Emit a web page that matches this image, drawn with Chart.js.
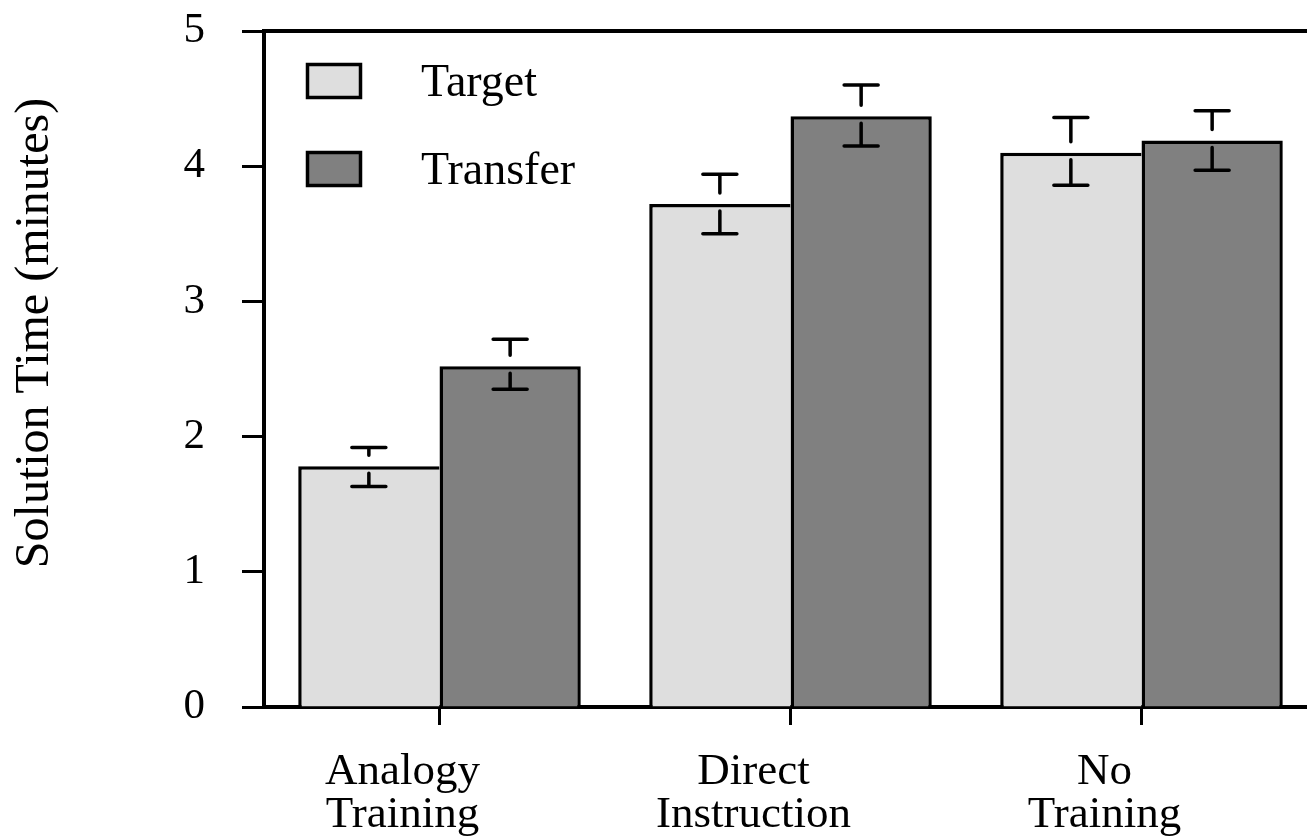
<!DOCTYPE html>
<html>
<head>
<meta charset="utf-8">
<title>Solution Time</title>
<script src="https://cdn.jsdelivr.net/npm/chart.js@4.4.1/dist/chart.umd.min.js"></script>
<style>
  html, body { margin: 0; padding: 0; background: #fff; overflow: hidden; }
  #wrap { position: relative; width: 1320px; height: 838px; }
</style>
</head>
<body>
<div id="wrap"><canvas id="chart"></canvas></div>
<script>
// data
const categories = [['Analogy', 'Training'], ['Direct', 'Instruction'], ['No', 'Training']];
const seriesNames = ['Target', 'Transfer'];
const targetMeans = [1.78, 3.72, 4.10];
const targetUpper = [1.92, 3.94, 4.36];
const targetLower = [1.63, 3.50, 3.86];
const transferMeans = [2.52, 4.37, 4.19];
const transferUpper = [2.72, 4.60, 4.41];
const transferLower = [2.35, 4.15, 3.97];
const yTicks = [0, 1, 2, 3, 4, 5];
const yTitle = 'Solution Time (minutes)';

const FONT = "'Liberation Serif', 'Times New Roman', serif";

// error bars: T above the bar top, inverted T inside the bar
const errorBars = {
  id: 'errorBars',
  afterDatasetsDraw(chart) {
    const { ctx, scales: { y } } = chart;
    ctx.save();
    ctx.strokeStyle = '#000';
    ctx.lineWidth = 3.5;
    ctx.lineCap = 'round';
    chart.data.datasets.forEach((ds, di) => {
      const meta = chart.getDatasetMeta(di);
      meta.data.forEach((bar, i) => {
        const x = bar.x;
        const yTop = y.getPixelForValue(ds.errUpper[i]);
        const yBot = y.getPixelForValue(ds.errLower[i]);
        const yMean = bar.y;
        ctx.beginPath();
        ctx.moveTo(x - 17, yTop); ctx.lineTo(x + 17, yTop);
        ctx.moveTo(x, yTop); ctx.lineTo(x, yMean - 11);
        ctx.moveTo(x, yMean + 7); ctx.lineTo(x, yBot);
        ctx.moveTo(x - 17, yBot); ctx.lineTo(x + 17, yBot);
        ctx.stroke();
      });
    });
    ctx.restore();
  }
};

// top/right frame, legend inside plot, rotated y title
const decor = {
  id: 'decor',
  afterDraw(chart) {
    const { ctx, chartArea: a } = chart;
    ctx.save();
    ctx.strokeStyle = '#000';
    ctx.lineWidth = 4;
    ctx.beginPath();
    ctx.moveTo(a.left - 2, a.top);
    ctx.lineTo(a.right, a.top);
    ctx.lineTo(a.right, a.bottom);
    ctx.stroke();

    // legend
    ctx.font = '46px ' + FONT;
    ctx.textAlign = 'left';
    ctx.textBaseline = 'alphabetic';
    chart.data.datasets.forEach((ds, i) => {
      const by = a.top + 33.5 + i * 88;
      ctx.fillStyle = ds.backgroundColor;
      ctx.fillRect(a.left + 43.5, by, 53, 33);
      ctx.lineWidth = 3.5;
      ctx.strokeRect(a.left + 43.5, by, 53, 33);
      ctx.fillStyle = '#000';
      ctx.fillText(ds.label, a.left + 157, a.top + 65 + i * 88);
    });

    // y axis title
    ctx.translate(48, 333);
    ctx.rotate(-Math.PI / 2);
    ctx.font = '48px ' + FONT;
    ctx.textAlign = 'center';
    ctx.fillText(yTitle, 0, 0);
    ctx.restore();
  }
};

new Chart(document.getElementById('chart'), {
  type: 'bar',
  data: {
    labels: categories,
    datasets: [
      {
        label: seriesNames[0],
        data: targetMeans,
        errUpper: targetUpper,
        errLower: targetLower,
        backgroundColor: '#dedede',
        borderColor: '#000',
        borderWidth: { left: 3.5, top: 3.5, right: 0, bottom: 0 },
        borderSkipped: false
      },
      {
        label: seriesNames[1],
        data: transferMeans,
        errUpper: transferUpper,
        errLower: transferLower,
        backgroundColor: '#808080',
        borderColor: '#000',
        borderWidth: { left: 3.5, top: 3.5, right: 3.5, bottom: 0 },
        borderSkipped: false
      }
    ]
  },
  options: {
    responsive: true,
    maintainAspectRatio: false,
    devicePixelRatio: 1,
    animation: false,
    categoryPercentage: 0.805,
    barPercentage: 1.0,
    layout: { padding: { top: 31, right: 3, left: 0, bottom: 0 } },
    plugins: {
      legend: { display: false },
      tooltip: { enabled: false }
    },
    scales: {
      x: {
        type: 'category',
        offset: true,
        afterFit: (scale) => {
          scale.height = 131;
          scale.paddingLeft = 0;
          scale.paddingRight = 0;
        },
        grid: {
          offset: false,
          drawOnChartArea: false,
          drawTicks: true,
          tickLength: 18,
          tickWidth: 3,
          tickColor: '#000'
        },
        border: { display: true, color: '#000', width: 4 },
        ticks: {
          color: '#000',
          font: { family: FONT, size: 45, lineHeight: 0.97 },
          padding: 25,
          labelOffset: -37,
          maxRotation: 0,
          autoSkip: false
        }
      },
      y: {
        min: 0,
        max: 5,
        afterFit: (scale) => {
          scale.width = 264;
          scale.paddingTop = 0;
          scale.paddingBottom = 0;
        },
        afterBuildTicks: (scale) => { scale.ticks = yTicks.map(v => ({ value: v })); },
        grid: {
          drawOnChartArea: false,
          drawTicks: true,
          tickLength: 22,
          tickWidth: 3,
          tickColor: '#000'
        },
        border: { display: true, color: '#000', width: 4 },
        ticks: {
          color: '#000',
          font: { family: FONT, size: 43 },
          padding: 37
        }
      }
    }
  },
  plugins: [errorBars, decor]
});
</script>
</body>
</html>
